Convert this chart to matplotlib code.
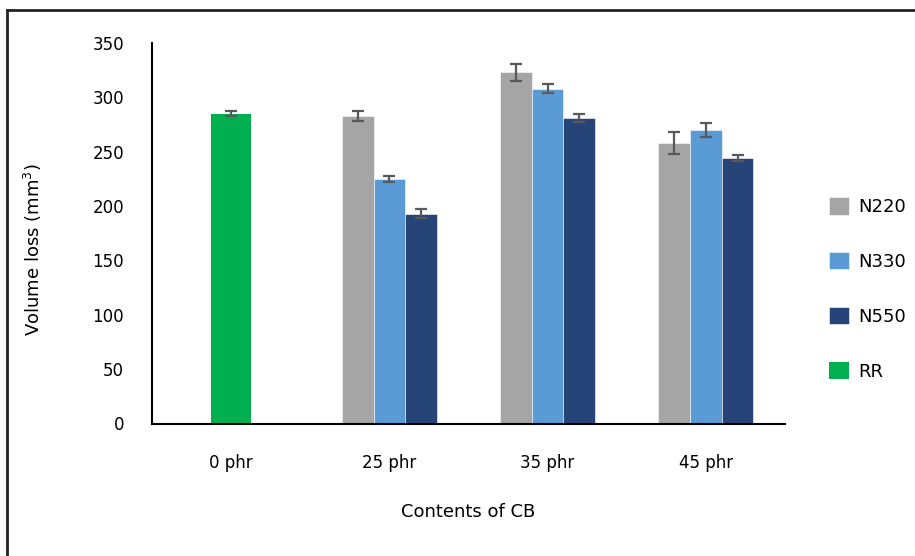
import numpy as np
import matplotlib.pyplot as plt
from matplotlib.lines import Line2D

plt.rcParams['font.family'] = ['DejaVu Sans']

categories = ['0 phr', '25 phr', '35 phr', '45 phr']
series = ['N220', 'N330', 'N550']
# values for 25, 35, 45 phr
n220 = [283, 323, 258]
n330 = [225, 308, 270]
n550 = [193, 281, 244]
n220_err = [4.5, 7.5, 10]
n330_err = [2.5, 4.3, 6.2]
n550_err = [4, 3.6, 2.8]
rr = [285]
rr_err = [2.5]

colors = ['#A5A5A5', '#5B9BD5', '#264478']
rr_color = '#00B050'
err_color = '#595959'

fig = plt.figure(figsize=(9.15, 5.56), dpi=100)
ax = fig.add_axes([152/915, 1-423.5/556, (785-152)/915, (423.5-43)/556])

x = np.arange(1, 4)
w = 0.2
ekw = dict(ecolor=err_color, elinewidth=1.6, capsize=4.5, capthick=1.6)
for i, (vals, errs) in enumerate(zip([n220, n330, n550], [n220_err, n330_err, n550_err])):
    ax.bar(x + (i-1)*w, vals, w, yerr=errs, color=colors[i], label=series[i],
           edgecolor='white', linewidth=0.4, error_kw=ekw)
ax.bar([0], rr, 0.253, yerr=rr_err, color=rr_color, label='RR', error_kw=ekw)

ax.set_xlim(-0.5, 3.5)
ax.set_ylim(0, 350)
ax.set_yticks(np.arange(0, 351, 50))
ax.set_xticks(range(4))
ax.set_xticklabels(categories)
ax.tick_params(length=0, labelsize=12, colors='black')
ax.tick_params(axis='x', pad=22)
ax.tick_params(axis='y', pad=20)
for s in ['top', 'right']:
    ax.spines[s].set_visible(False)
for s in ['left', 'bottom']:
    ax.spines[s].set_linewidth(1.5)
    ax.spines[s].set_color('black')

ax.set_xlabel('Contents of CB', fontsize=13, labelpad=22)
ax.set_ylabel('Volume loss (mm$^3$)', fontsize=13)
ax.yaxis.set_label_coords(-0.17, 0.456)

ax.legend(loc='center left', bbox_to_anchor=(813/915, 1-289/556), bbox_transform=fig.transFigure,
          frameon=False, fontsize=13, labelspacing=2.0, handlelength=1.1, handleheight=1.1,
          handletextpad=0.5)

# outer border
fig.add_artist(Line2D([7/915, 7/915], [0, 1-10/556], transform=fig.transFigure, color='#222222', lw=2))
fig.add_artist(Line2D([7/915, 1], [1-10/556, 1-10/556], transform=fig.transFigure, color='#222222', lw=2))

fig.savefig('out.png', dpi=100)
